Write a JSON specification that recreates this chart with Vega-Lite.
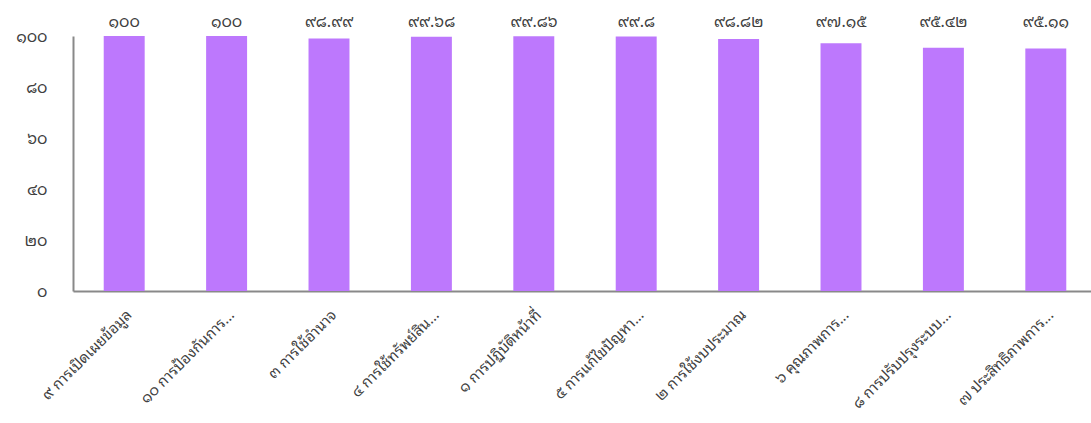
{
  "$schema": "https://vega.github.io/schema/vega-lite/v6.json",
  "autosize": {"type": "none"},
  "width": 1024,
  "height": 255,
  "padding": {"left": 73, "top": 36, "right": 0, "bottom": 132},
  "background": "white",
  "config": {
    "view": {"stroke": null},
    "font": "Noto Sans Thai Looped, Loma, Tahoma, Noto Sans Thai, Noto Sans",
    "axis": {"labelColor": "#404040", "labelFont": "Noto Sans Thai Looped, Loma, Tahoma, Noto Sans Thai, Noto Sans"}
  },
  "data": {
    "values": [
      {"item": "๙ การเปิดเผยข้อมูล", "score": 100, "label": "๑๐๐"},
      {"item": "๑๐ การป้องกันการ...", "score": 100, "label": "๑๐๐"},
      {"item": "๓ การใช้อำนาจ", "score": 98.99, "label": "๙๘.๙๙"},
      {"item": "๔ การใช้ทรัพย์สิน...", "score": 99.68, "label": "๙๙.๖๘"},
      {"item": "๑ การปฏิบัติหน้าที่", "score": 99.86, "label": "๙๙.๘๖"},
      {"item": "๕ การแก้ไขปัญหา...", "score": 99.8, "label": "๙๙.๘"},
      {"item": "๒ การใช้งบประมาณ", "score": 98.82, "label": "๙๘.๘๒"},
      {"item": "๖ คุณภาพการ...", "score": 97.15, "label": "๙๗.๑๕"},
      {"item": "๘ การปรับปรุงระบบ...", "score": 95.42, "label": "๙๕.๔๒"},
      {"item": "๗ ประสิทธิภาพการ...", "score": 95.11, "label": "๙๕.๑๑"}
    ]
  },
  "encoding": {
    "x": {
      "field": "item",
      "type": "nominal",
      "sort": null,
      "scale": {"paddingInner": 0.6, "paddingOuter": 0.3},
      "axis": {
        "title": null,
        "labelAngle": -45,
        "labelFontSize": 15,
        "labelPadding": 16,
        "labelLimit": 300,
        "ticks": false,
        "tickSize": 0,
        "domainColor": "#898989",
        "domainWidth": 2
      }
    }
  },
  "layer": [
    {
      "mark": {"type": "bar", "color": "#BD78FD"},
      "encoding": {
        "y": {
          "field": "score",
          "type": "quantitative",
          "scale": {"domain": [0, 100], "nice": false},
          "axis": {
            "title": null,
            "values": [0, 20, 40, 60, 80, 100],
            "labelExpr": "{'0':'๐','20':'๒๐','40':'๔๐','60':'๖๐','80':'๘๐','100':'๑๐๐'}[datum.label]",
            "labelFontSize": 16,
            "labelPadding": 26,
            "ticks": false,
            "tickSize": 0,
            "grid": false,
            "domainColor": "#898989",
            "domainWidth": 2
          }
        }
      }
    },
    {
      "mark": {"type": "text", "fontSize": 16, "color": "#404040", "dy": -14},
      "encoding": {
        "y": {"datum": 100, "type": "quantitative"},
        "text": {"field": "label"}
      }
    }
  ]
}
